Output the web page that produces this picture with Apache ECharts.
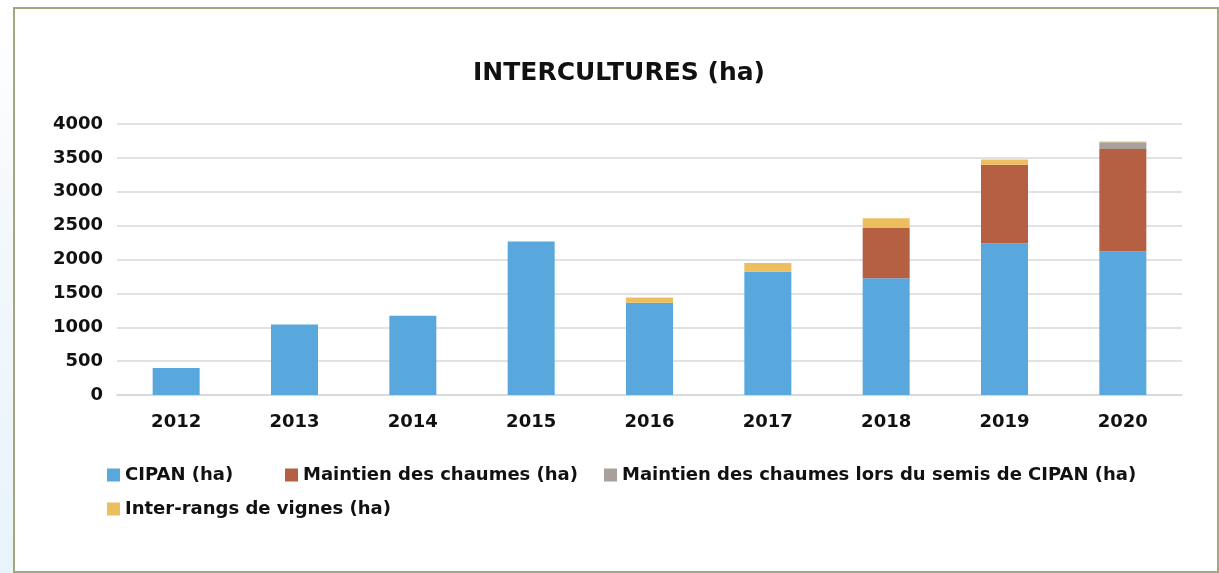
<!DOCTYPE html>
<html>
<head>
<meta charset="utf-8">
<script src="https://cdn.jsdelivr.net/npm/echarts@6/dist/echarts.min.js"></script>
<style>
html,body{margin:0;padding:0;width:1219px;height:573px;overflow:hidden;
background:linear-gradient(to bottom,#ffffff 0%,#f3f8fc 40%,#e8f3fb 100%);}
#chart{width:1219px;height:573px;}
</style>
</head>
<body>
<div id="chart"></div>
<script>
const years = ['2012','2013','2014','2015','2016','2017','2018','2019','2020'];
const cipan = [400, 1040, 1170, 2265, 1360, 1820, 1725, 2240, 2120];
const chaumes = [0, 0, 0, 0, 0, 0, 740, 1160, 1510];
const chaumesSemis = [0, 0, 0, 0, 0, 0, 0, 0, 100];
const vignes = [0, 0, 0, 0, 80, 130, 145, 75, 10];
const seriesNames = ['CIPAN (ha)', 'Maintien des chaumes (ha)', 'Maintien des chaumes lors du semis de CIPAN (ha)', 'Inter-rangs de vignes (ha)'];
const colors = ['#58A8DE', '#B56043', '#A9A09C', '#EDBE5E'];

const FONT = 'DejaVu Sans';
const chart = echarts.init(document.getElementById('chart'), null, {renderer: 'canvas'});
const values = [cipan, chaumes, chaumesSemis, vignes];

const legendPos = [[107, 466], [285, 466], [604, 466], [107, 500]];
const legends = seriesNames.map((n, i) => ({
  data: [n], left: legendPos[i][0], top: legendPos[i][1], orient: 'horizontal',
  itemWidth: 13, itemHeight: 13, icon: 'rect', itemGap: 0, padding: 0,
  textStyle: {fontFamily: FONT, fontWeight: 'bold', fontSize: 18, color: '#111'},
  selectedMode: false
}));

chart.setOption({
  animation: false,
  backgroundColor: 'transparent',
  color: colors,
  graphic: [{
    type: 'rect', z: -10, silent: true,
    shape: {x: 14, y: 8, width: 1204, height: 564},
    style: {fill: '#ffffff', stroke: '#A2A77E', lineWidth: 2}
  }],
  title: {
    text: 'INTERCULTURES (ha)', left: 614, top: 56, textAlign: 'center',
    textStyle: {fontFamily: FONT, fontWeight: 'bold', fontSize: 25, color: '#111'}
  },
  legend: legends,
  grid: {left: 117, right: 37, top: 124, bottom: 178, containLabel: false},
  xAxis: {
    type: 'category', data: years,
    axisLine: {lineStyle: {color: '#d6d6d6', width: 1.5}},
    axisTick: {show: false},
    axisLabel: {fontFamily: FONT, fontWeight: 'bold', fontSize: 18, color: '#111', margin: 18}
  },
  yAxis: {
    type: 'value', min: 0, max: 4000, interval: 500,
    axisLine: {show: false}, axisTick: {show: false},
    splitLine: {lineStyle: {color: '#d9d9d9', width: 1.5}},
    axisLabel: {fontFamily: FONT, fontWeight: 'bold', fontSize: 18, color: '#111', margin: 14,
      formatter: v => String(v)}
  },
  series: seriesNames.map((n, i) => ({
    name: n, type: 'bar', stack: 'total', barWidth: 47,
    data: values[i],
    itemStyle: {color: colors[i]}
  }))
});
</script>
</body>
</html>
